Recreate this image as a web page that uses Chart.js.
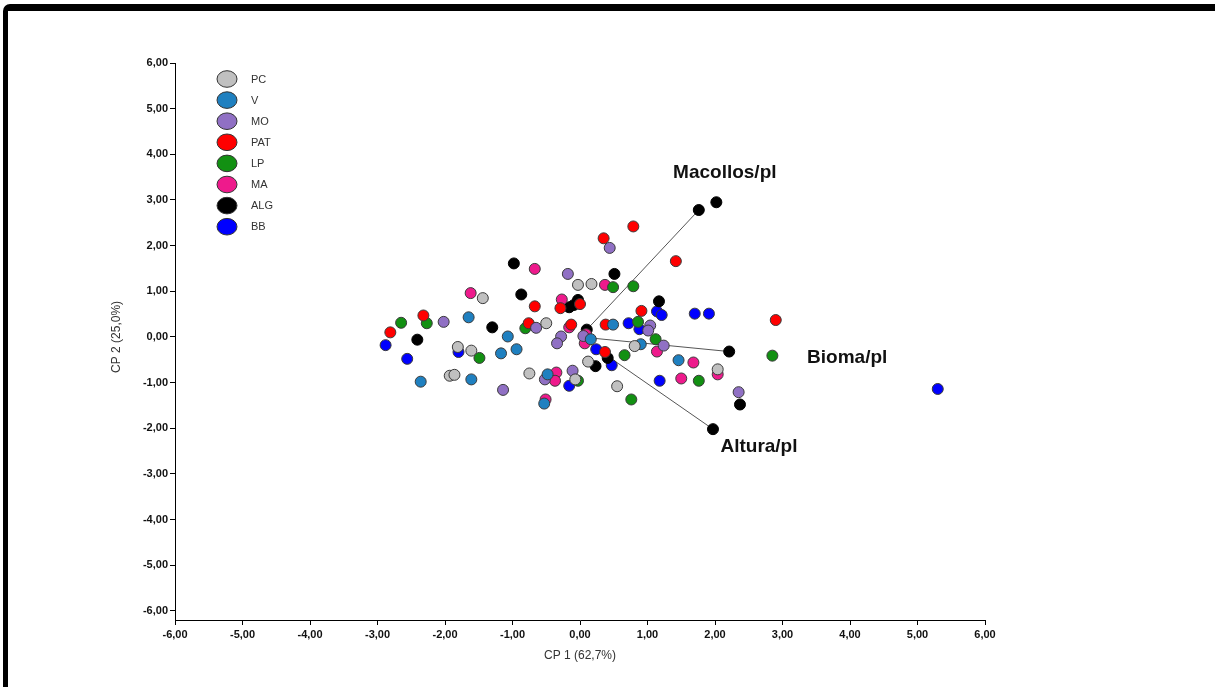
<!DOCTYPE html>
<html><head><meta charset="utf-8">
<script src="https://cdn.jsdelivr.net/npm/chart.js@4.4.1/dist/chart.umd.min.js"></script>
<style>
html,body{margin:0;padding:0;background:#fff;}
#wrap{position:relative;width:1215px;height:687px;overflow:hidden;background:#fff;}
#frame{position:absolute;left:3px;top:4px;width:1400px;height:900px;border-top:7px solid #000;border-left:5px solid #000;border-top-left-radius:7px;box-sizing:border-box;pointer-events:none;}
canvas{position:absolute;left:0;top:0;}
</style></head>
<body><div id="wrap"><canvas id="c" width="1215" height="687"></canvas><div id="frame"></div></div>
<script>
// ---- data ----
const groupNames = ['PC','V','MO','PAT','LP','MA','ALG','BB'];
const groupColors = ['#c0c0c0','#1f80c0','#9070c4','#ff0000','#129012','#ee1a8c','#000000','#0000ff'];

const pcX  = [-1.44,-1.81,-1.61,-1.93,-1.86,-0.03,0.17,-0.50,-0.75,-0.07,0.12,0.81,0.55,2.04];
const pcY  = [0.85,-0.22,-0.30,-0.85,-0.83,1.14,1.16,0.30,-0.80,-0.93,-0.54,-0.20,-1.08,-0.71];
const vX   = [-1.65,-1.07,-1.17,-0.94,-2.36,-1.61,-0.48,-0.53,0.16,0.49,0.90,1.46];
const vY   = [0.43,0.01,-0.36,-0.27,-0.98,-0.93,-0.82,-1.46,-0.05,0.27,-0.16,-0.51];
const moX  = [-2.02,-1.14,-0.18,0.44,-0.65,-0.28,-0.34,-0.52,-0.11,1.04,1.01,1.24,2.35,0.05];
const moY  = [0.33,-1.16,1.38,1.95,0.20,0.01,-0.14,-0.93,-0.74,0.25,0.14,-0.19,-1.21,0.02];
const patX = [-2.32,-2.81,-0.67,-0.29,0.00,-0.76,-0.13,0.35,0.79,1.42,0.91,0.38,0.37,2.90];
const patY = [0.47,0.10,0.67,0.63,0.72,0.30,0.27,2.16,2.42,1.66,0.57,0.27,-0.33,0.37];
const lpX  = [-2.65,-2.27,-1.49,-0.81,0.49,0.79,0.86,1.12,0.66,-0.03,0.76,1.76,2.85];
const lpY  = [0.31,0.30,-0.46,0.19,1.09,1.11,0.33,-0.05,-0.40,-0.96,-1.37,-0.96,-0.41];
const maX  = [-1.62,-0.67,-0.27,-0.16,0.37,0.07,-0.35,-0.37,-0.51,1.14,1.68,1.50,2.04,0.09];
const maY  = [0.96,1.49,0.82,0.21,1.14,-0.14,-0.78,-0.96,-1.37,-0.32,-0.56,-0.91,-0.82,0.06];
const algX = [-0.98,-0.87,-0.16,-0.03,-0.09,-1.30,-2.41,0.10,0.23,0.41,0.51,1.17,2.02,2.37];
const algY = [1.61,0.93,0.65,0.81,0.70,0.21,-0.06,0.16,-0.64,-0.46,1.38,0.78,2.95,-1.48];
const bbX  = [-2.88,-2.56,-1.80,0.24,0.47,-0.16,0.72,0.88,1.14,1.21,1.70,1.91,1.18,5.30];
const bbY  = [-0.18,-0.48,-0.33,-0.27,-0.62,-1.07,0.30,0.17,0.56,0.48,0.51,0.51,-0.96,-1.14];

const vectorNames = ['Macollos/pl','Bioma/pl','Altura/pl'];
const vectorX = [1.76,2.21,1.97];
const vectorY = [2.78,-0.32,-2.02];

const axisTicks = [-6,-5,-4,-3,-2,-1,0,1,2,3,4,5,6];
const xTitle = 'CP 1 (62,7%)';
const yTitle = 'CP 2 (25,0%)';

// ---- build ----
const groupXs = [pcX,vX,moX,patX,lpX,maX,algX,bbX];
const groupYs = [pcY,vY,moY,patY,lpY,maY,algY,bbY];
const FONT = '"Liberation Sans", Arial, sans-serif';
const fmt = v => Number(v).toFixed(2).replace('.', ',');

const datasets = [];
groupNames.forEach((n, i) => {
  datasets.push({
    label: n,
    data: groupXs[i].map((x, k) => ({x, y: groupYs[i][k]})),
    backgroundColor: groupColors[i],
    borderColor: i === 6 ? '#000' : '#3a3a3a',
    borderWidth: 1,
    pointRadius: 5.5,
    pointHoverRadius: 5.5,
    order: 1
  });
});
vectorNames.forEach((n, i) => {
  datasets.push({
    label: n,
    data: [{x: 0, y: 0}, {x: vectorX[i], y: vectorY[i]}],
    showLine: true,
    borderColor: '#555',
    borderWidth: 1,
    backgroundColor: '#000',
    pointBackgroundColor: '#000',
    pointBorderColor: '#000',
    pointRadius: [0, 5.5],
    pointHoverRadius: [0, 5.5],
    order: 5
  });
});

const labelOffsets = [[26, -37], [118, 6], [46, 18]];

const decor = {
  id: 'decor',
  afterDatasetsDraw(chart) {
    const ctx = chart.ctx, xs = chart.scales.x, ys = chart.scales.y;
    ctx.save();
    // vector labels
    ctx.font = 'bold 19px ' + FONT;
    ctx.fillStyle = '#111';
    ctx.textAlign = 'center';
    ctx.textBaseline = 'middle';
    vectorNames.forEach((n, i) => {
      const px = xs.getPixelForValue(vectorX[i]) + labelOffsets[i][0];
      const py = ys.getPixelForValue(vectorY[i]) + labelOffsets[i][1];
      ctx.fillText(n, px, py);
    });
    // legend
    const lx = 227, ly0 = 79, step = 21.1;
    groupNames.forEach((n, i) => {
      const y = ly0 + i * step;
      ctx.beginPath();
      ctx.ellipse(lx, y, 10, 8.3, 0, 0, Math.PI * 2);
      ctx.fillStyle = groupColors[i];
      ctx.fill();
      ctx.lineWidth = 1;
      ctx.strokeStyle = '#333';
      ctx.stroke();
      ctx.font = '11px ' + FONT;
      ctx.fillStyle = '#333';
      ctx.textAlign = 'left';
      ctx.fillText(n, 251, y + 0.5);
    });
    // axis titles
    ctx.font = '12px ' + FONT;
    ctx.fillStyle = '#333';
    ctx.textAlign = 'center';
    ctx.fillText(xTitle, (chart.chartArea.left + chart.chartArea.right) / 2, 656);
    ctx.translate(117, ys.getPixelForValue(0));
    ctx.rotate(-Math.PI / 2);
    ctx.fillText(yTitle, 0, 0);
    ctx.restore();
  }
};

const axisCommon = {
  grid: {display: true, drawOnChartArea: false, drawTicks: true, tickLength: 5, color: '#000', lineWidth: 1},
  border: {display: true, color: '#000', width: 1},
  ticks: {font: {family: FONT, size: 11, weight: 'bold'}, color: '#111', autoSkip: false, maxRotation: 0, callback: v => fmt(v)}
};

new Chart(document.getElementById('c'), {
  type: 'scatter',
  data: {datasets},
  options: {
    responsive: false,
    animation: false,
    layout: {padding: {left: 0, top: 63, right: 230, bottom: 0}},
    plugins: {legend: {display: false}, tooltip: {enabled: false}},
    scales: {
      x: Object.assign({}, axisCommon, {
        type: 'linear', min: -6, max: 6,
        ticks: Object.assign({}, axisCommon.ticks, {padding: 3}),
        afterBuildTicks: s => { s.ticks = axisTicks.map(v => ({value: v})); },
        afterFit: s => { s.height = 67; }
      }),
      y: Object.assign({}, axisCommon, {
        type: 'linear', min: -6.2, max: 6,
        ticks: Object.assign({}, axisCommon.ticks, {padding: 2}),
        afterBuildTicks: s => { s.ticks = axisTicks.map(v => ({value: v})); },
        afterFit: s => { s.width = 175; }
      })
    }
  },
  plugins: [decor]
});
</script>
</body></html>
